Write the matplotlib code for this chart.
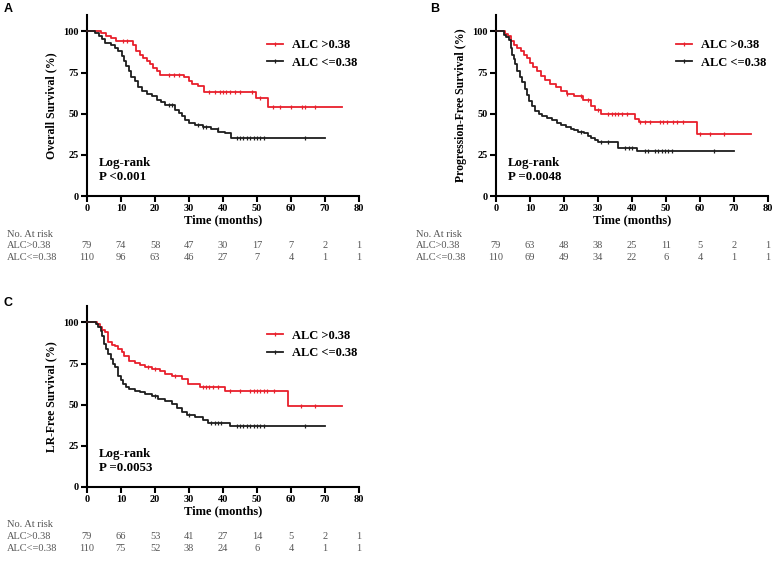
import numpy as np
import matplotlib
matplotlib.use("Agg")
import matplotlib.pyplot as plt
from matplotlib.lines import Line2D

plt.rcParams['font.family'] = ['Liberation Serif', 'DejaVu Serif']

RED = '#e8202c'
BLK = '#1e1e1e'
GRAY = '#555555'

# ---------- data ----------
# A: overall survival
os_hi_t = [0, 4, 5.5, 7, 8.5, 13.5, 14.5, 15.5, 16.6, 17.5, 18.5, 19.5, 20.5, 21.5, 28.4, 30, 31, 32.5, 34.3, 49.7, 53.1]
os_hi_s = [100, 99, 97.5, 96, 94.5, 91.5, 88, 86, 84, 82, 80, 78, 76, 73.8, 72.5, 69.7, 68, 66.6, 63.3, 59.6, 54.1]
os_hi_cens = [10.6, 11.8, 24, 25.5, 27, 36, 37.5, 39, 40, 41, 42, 43.5, 45, 48.5, 51, 54.8, 56.8, 60, 63.2, 64.1, 67]
os_hi_end = 75

os_lo_t = [0, 2.4, 3.5, 4.5, 5.3, 7, 8.2, 9.2, 10.2, 11, 11.6, 12.2, 13, 14.1, 15.1, 16.1, 17.5, 19, 20.5, 21.8, 23,
           25.9, 27, 28, 28.8, 30, 31.8, 34, 36.5, 38.6, 40.6, 42.2]
os_lo_s = [100, 99.2, 97.5, 95.5, 93.1, 91.5, 90, 88, 85, 82, 79, 75.8, 72.5, 69.7, 66.5, 63.6, 62, 60.5, 58.5, 57, 55.5,
           52.4, 50.5, 48.5, 46.3, 44.5, 43.3, 42, 41, 39.2, 38, 35.2]
os_lo_cens = [24, 25, 32.5, 34, 35, 38.5, 44, 45, 46, 47, 48, 49, 50, 51, 52, 64]
os_lo_end = 70

# B: progression-free survival
pfs_hi_t = [0, 2.7, 3.5, 4.5, 5.3, 6.3, 7.3, 8.3, 9.1, 10, 11, 12, 13.2, 14.5, 16, 17.5, 19, 21, 23, 25.5, 28, 29, 31, 41, 42, 59]
pfs_hi_s = [100, 98.5, 97, 94.5, 92, 90, 88, 86, 84, 81, 78.5, 75.8, 73, 70.5, 68, 66, 63.6, 62, 60.5, 58.5, 54.5, 52, 50, 47, 45, 37.8]
pfs_hi_cens = [21, 25, 27, 30, 33, 34, 35, 36, 37, 38.5, 42.4, 43.8, 45.3, 48.2, 49, 50.3, 52, 53.2, 55, 60, 63, 67]
pfs_hi_end = 75

pfs_lo_t = [0, 2.2, 3, 3.8, 4.3, 4.8, 5.3, 5.7, 6.3, 7, 7.7, 8.4, 9.1, 9.8, 10.6, 11.6, 12.5, 13.5, 15, 16.5, 18, 19,
            20.5, 22, 23, 24, 26, 27, 28, 29, 30, 36, 41.5]
pfs_lo_s = [100, 98, 96.5, 95, 90, 86, 83, 80, 76, 72.5, 69, 65, 61.6, 58, 54.5, 51.4, 50, 48.7, 47.4, 46, 44.5, 43.3,
            42, 41, 40, 39.2, 38, 36.5, 35.2, 34, 33.1, 29.1, 27.6]
pfs_lo_cens = [25, 31, 33, 38, 39, 40, 43.8, 44.7, 46.8, 47.7, 48.8, 49.7, 50.6, 51.8, 64]
pfs_lo_end = 70

# C: LR-free survival
lr_hi_t = [0, 3, 3.8, 4.5, 5.3, 6.3, 7.4, 8.3, 9.2, 10.3, 11, 12.2, 14, 15.5, 17, 19, 21.5, 23, 25, 27.8, 29.8, 33.2, 40.7, 59]
lr_hi_s = [100, 99, 97, 95.5, 94, 88, 86.5, 85.5, 83.9, 82, 79.5, 76.8, 75.5, 74, 72.7, 71.5, 70.2, 68.7, 67.5, 65.6, 62.6, 60.5, 58.3, 49]
lr_hi_cens = [18, 20, 26, 34, 35, 36, 37, 38.5, 42, 45, 48, 49, 50, 51, 52, 53, 55, 63, 67]
lr_hi_end = 75

lr_lo_t = [0, 2.5, 3.3, 4, 4.5, 5, 5.6, 6.3, 7, 7.7, 8.3, 9.2, 10, 10.7, 11.5, 12.2, 14, 15.5, 17, 19, 21, 23, 25,
           26.5, 27.8, 29.5, 31.8, 34, 35.7, 42]
lr_lo_s = [100, 99, 97.5, 95, 92, 87, 84, 80.9, 78, 75, 72.7, 67.7, 65, 62.6, 61, 59.5, 58.5, 57.5, 56.5, 55, 53.4, 52,
           50.4, 48, 45.3, 43.5, 42.3, 41, 38.6, 36.9]
lr_lo_cens = [20, 30, 36.5, 37.5, 38.5, 39.5, 44, 45, 46, 47, 48, 49, 50, 51, 52, 64]
lr_lo_end = 70

risk_times = [0, 10, 20, 30, 40, 50, 60, 70, 80]
os_risk_hi = [79, 74, 58, 47, 30, 17, 7, 2, 1]
os_risk_lo = [110, 96, 63, 46, 27, 7, 4, 1, 1]
pfs_risk_hi = [79, 63, 48, 38, 25, 11, 5, 2, 1]
pfs_risk_lo = [110, 69, 49, 34, 22, 6, 4, 1, 1]
lr_risk_hi = [79, 66, 53, 41, 27, 14, 5, 2, 1]
lr_risk_lo = [110, 75, 52, 38, 24, 6, 4, 1, 1]

p_texts = ['P <0.001', 'P =0.0048', 'P =0.0053']
y_labels = ['Overall Survival (%)', 'Progression-Free Survival (%)', 'LR-Free Survival (%)']


def km(ax, t, s, cens, end, color):
    tt = list(t) + [end]
    ss = list(s) + [s[-1]]
    ax.step(tt, ss, where='post', color=color, lw=1.3, clip_on=False, zorder=3)
    idx = np.searchsorted(t, cens, side='right') - 1
    cy = np.array(s)[idx]
    ax.plot(cens, cy, ls='none', marker='|', ms=3.5, mew=0.9, color=color, zorder=3)


def panel(ax, hi, lo, risk_hi, risk_lo, ylab, ptxt):
    km(ax, *hi, RED)
    km(ax, *lo, BLK)
    ax.set_xlim(0, 80)
    ax.set_ylim(0, 110)
    ax.set_xticks(range(0, 81, 10))
    ax.set_yticks([0, 25, 50, 75, 100])
    for sp in ['top', 'right']:
        ax.spines[sp].set_visible(False)
    for sp in ['left', 'bottom']:
        ax.spines[sp].set_linewidth(1.5)
    ax.tick_params(width=1.5, length=4, labelsize=7.5, pad=2)
    for lab in ax.get_xticklabels() + ax.get_yticklabels():
        lab.set_fontweight('bold')
    ax.set_xlabel('Time (months)', fontsize=9, fontweight='bold', labelpad=1)
    ax.set_ylabel(ylab, fontsize=8.5, fontweight='bold', labelpad=4)

    handles = [Line2D([], [], color=RED, lw=1.3, marker='|', ms=3.5, mew=0.9),
               Line2D([], [], color=BLK, lw=1.3, marker='|', ms=3.5, mew=0.9)]
    ax.legend(handles, ['ALC >0.38', 'ALC <=0.38'], loc='upper left', bbox_to_anchor=(0.62, 0.93),
              frameon=False, handlelength=1.3, handletextpad=0.7, labelspacing=0.45,
              prop={'weight': 'bold', 'size': 9}, numpoints=1)

    ax.text(0.045, 0.145, 'Log-rank\n' + ptxt, transform=ax.transAxes, fontsize=9.3,
            fontweight='bold', va='center', ha='left', linespacing=1.2)

    tr = ax.get_xaxis_transform()
    ax.text(-0.295, -0.21, 'No. At risk', transform=ax.transAxes, fontsize=7.5, color=GRAY, va='center')
    ax.text(-0.295, -0.272, 'ALC>0.38', transform=ax.transAxes, fontsize=7.5, color=GRAY, va='center')
    ax.text(-0.295, -0.338, 'ALC<=0.38', transform=ax.transAxes, fontsize=7.5, color=GRAY, va='center')
    for x, a, b in zip(risk_times, risk_hi, risk_lo):
        ax.text(x, -0.272, str(a), transform=tr, fontsize=7.5, color=GRAY, ha='center', va='center', clip_on=False)
        ax.text(x, -0.338, str(b), transform=tr, fontsize=7.5, color=GRAY, ha='center', va='center', clip_on=False)


fig = plt.figure(figsize=(7.82, 5.62), dpi=100)
axA = fig.add_axes([0.1113, 0.6512, 0.3478, 0.3221])
axB = fig.add_axes([0.6343, 0.6512, 0.3478, 0.3221])
axC = fig.add_axes([0.1113, 0.1335, 0.3478, 0.3221])

panel(axA, (os_hi_t, os_hi_s, os_hi_cens, os_hi_end), (os_lo_t, os_lo_s, os_lo_cens, os_lo_end),
      os_risk_hi, os_risk_lo, y_labels[0], p_texts[0])
panel(axB, (pfs_hi_t, pfs_hi_s, pfs_hi_cens, pfs_hi_end), (pfs_lo_t, pfs_lo_s, pfs_lo_cens, pfs_lo_end),
      pfs_risk_hi, pfs_risk_lo, y_labels[1], p_texts[1])
panel(axC, (lr_hi_t, lr_hi_s, lr_hi_cens, lr_hi_end), (lr_lo_t, lr_lo_s, lr_lo_cens, lr_lo_end),
      lr_risk_hi, lr_risk_lo, y_labels[2], p_texts[2])

# panel letters
for lx, ly, letter in [(4, 9, 'A'), (430, 9, 'B'), (4, 303, 'C')]:
    fig.text(lx / 782, 1 - ly / 562, letter, fontsize=9, fontweight='bold',
             family='Liberation Sans', va='center', ha='left')

fig.savefig('out.png', dpi=100)
